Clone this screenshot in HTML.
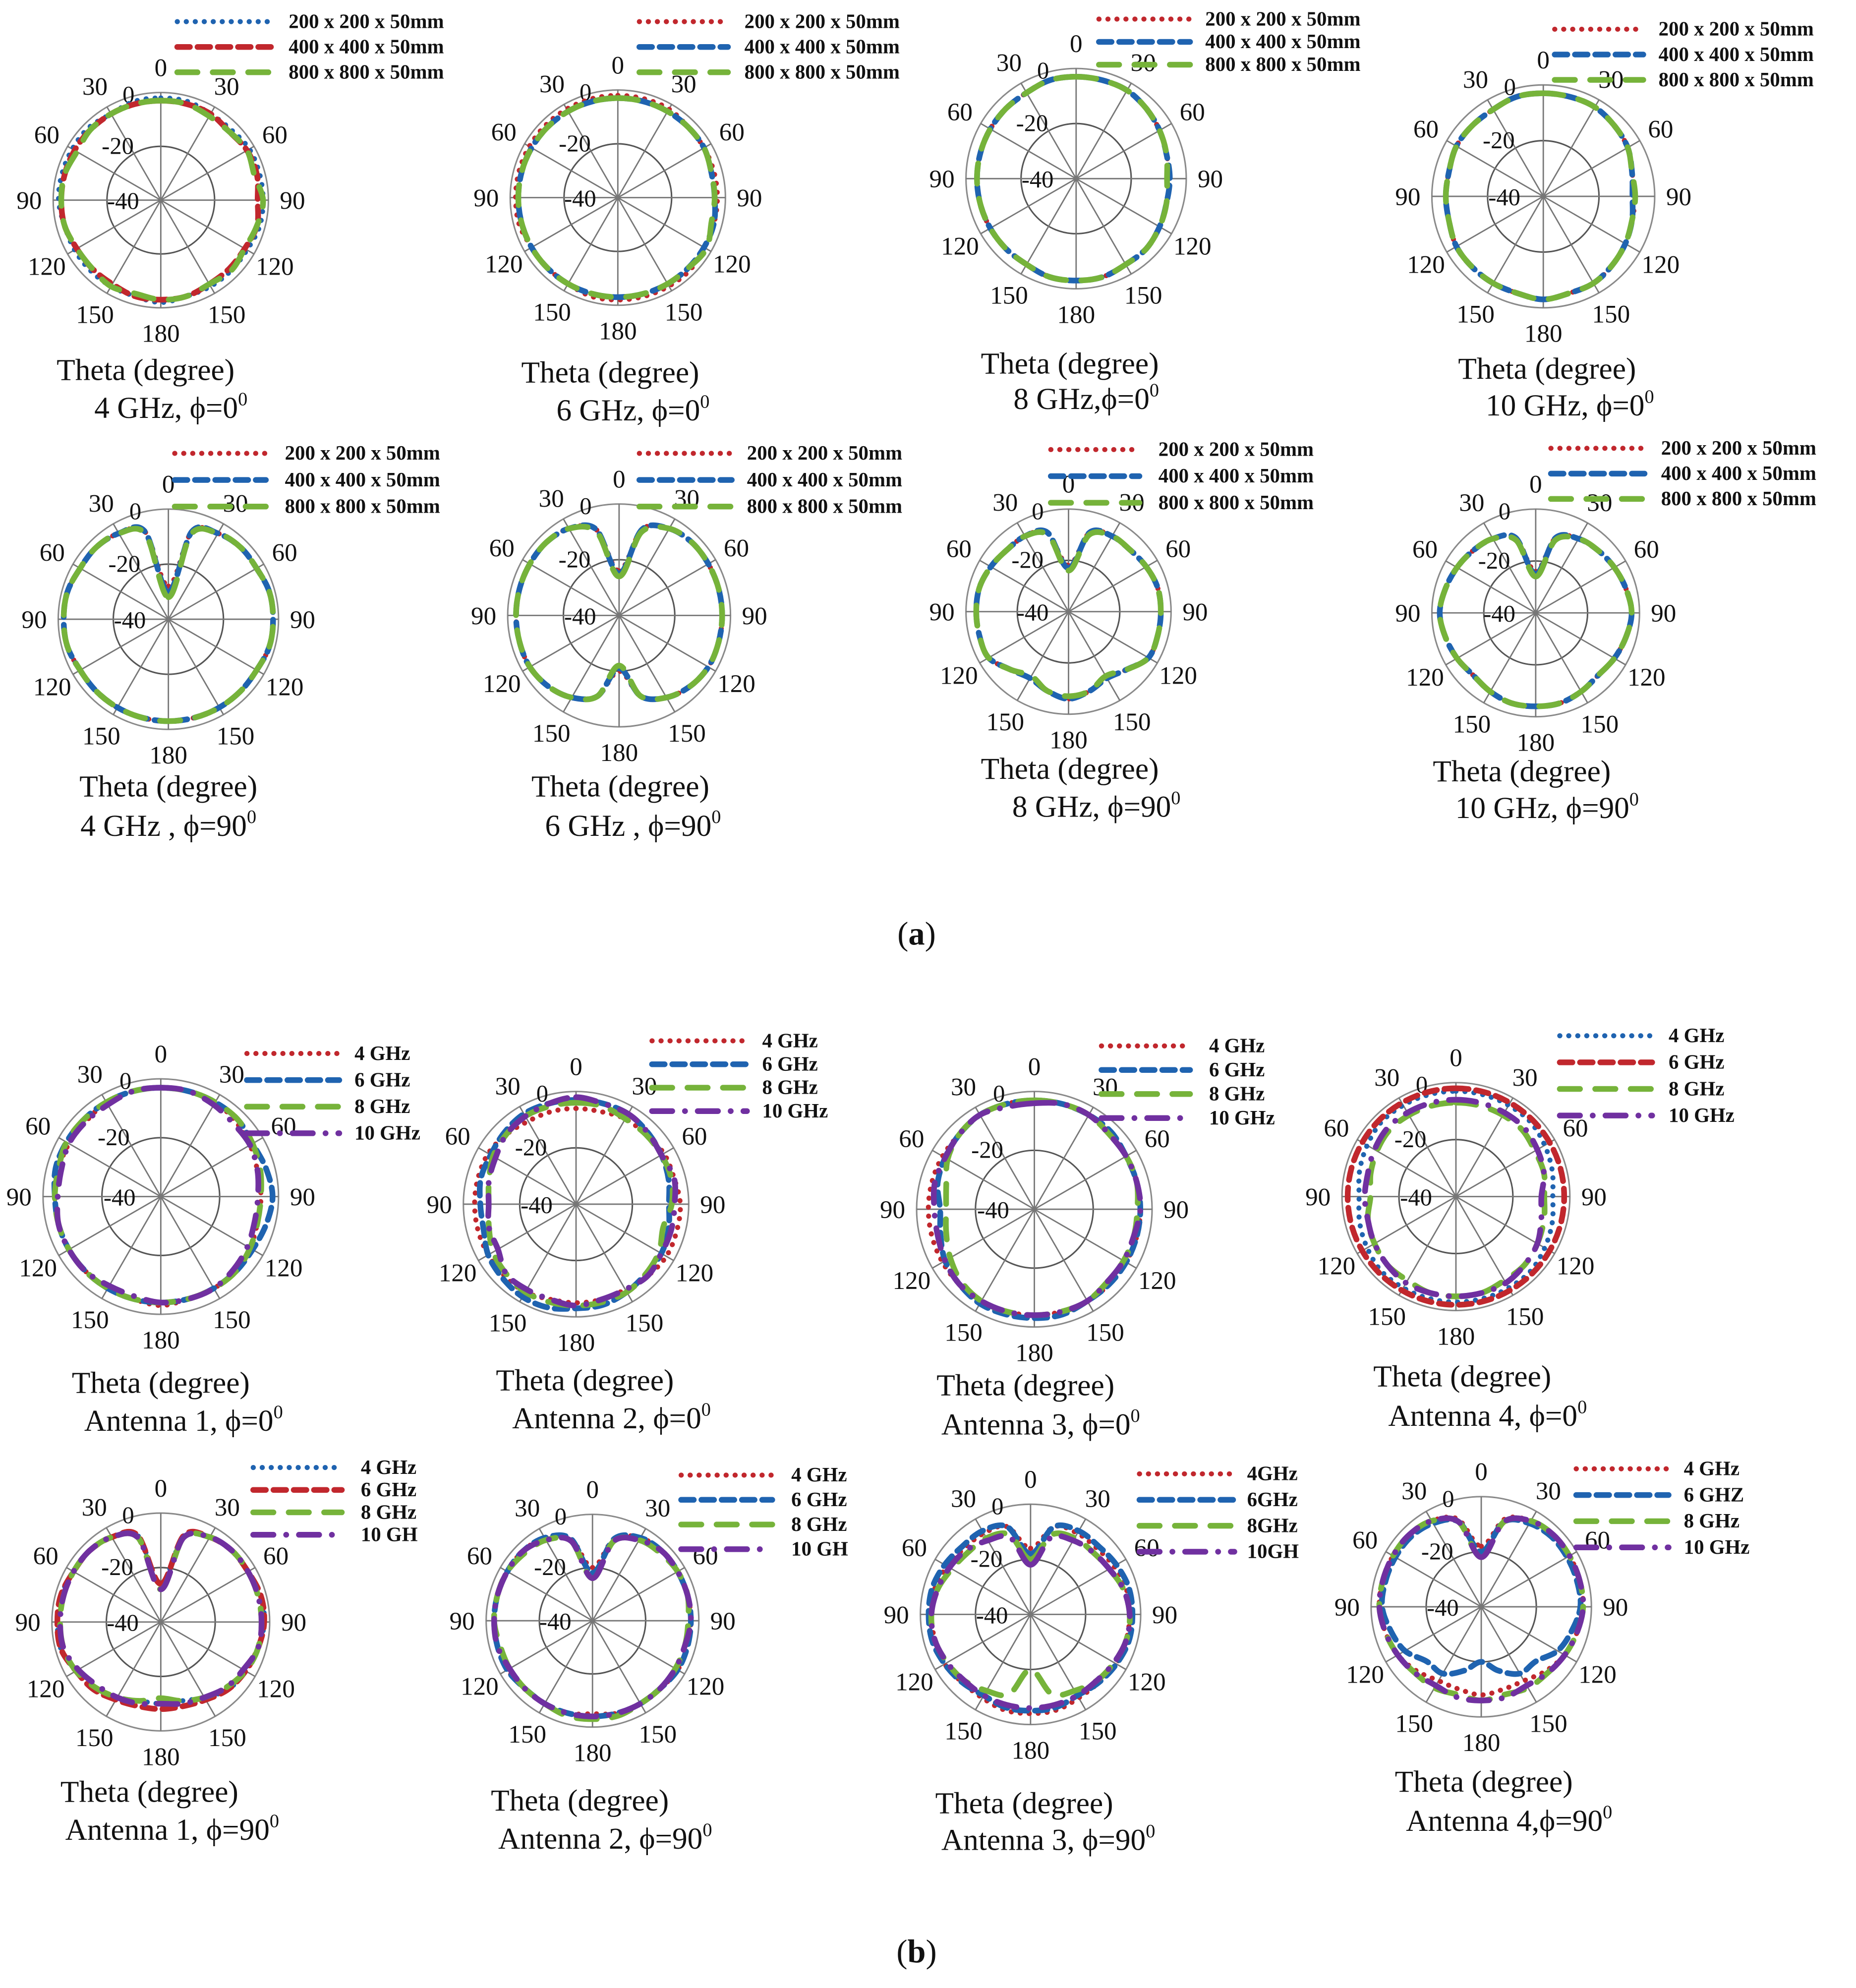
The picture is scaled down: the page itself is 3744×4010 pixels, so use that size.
<!DOCTYPE html>
<html><head><meta charset="utf-8"><style>
html,body{margin:0;padding:0;background:#fff;}
svg{display:block;}
text{font-family:"Liberation Serif",serif;fill:#111;}
</style></head><body>
<svg id="fig" width="3744" height="4010" viewBox="0 0 1466 1570" xmlns="http://www.w3.org/2000/svg">
<text x="724" y="746" font-size="26" text-anchor="middle">(<tspan font-weight="bold">a</tspan>)</text>
<text x="724" y="1550" font-size="26" text-anchor="middle">(<tspan font-weight="bold">b</tspan>)</text>
</svg>
<script>
// ---- data (dB, 24 samples, every 15 deg clockwise from 0) ----
const radialTicks = ["0","-20","-40"];
const angleTicks = ["0","30","60","90","120","150","180"];
const legendA = ["200 x 200 x 50mm","400 x 400 x 50mm","800 x 800 x 50mm"];
const p1s1=[-2,-2,-3,-3,-2,-2,-2,-2,-3,-3,-3,-3,-2,-3,-3,-3,-3,-3,-2,-2,-2,-2,-3,-2];
const p1s2=[-3,-3,-3,-4,-3,-3,-4,-3,-4,-4,-4,-3,-3,-3,-4,-4,-4,-3,-3,-3,-3,-3,-3,-3];
const p1s3=[-3,-3,-4,-4,-3,-4,-2,-3,-4,-3,-4,-3,-3,-4,-3,-4,-4,-3,-3,-3,-4,-3,-3,-3];
const p2s1=[-2,-2,-2,-3,-3,-3,-3,-3,-3,-2,-2,-2,-2,-2,-3,-3,-3,-2,-2,-2,-2,-2,-2,-2];
const p2s2=[-3,-3,-3,-3,-3,-4,-4,-3,-3,-3,-3,-3,-3,-3,-3,-3,-3,-3,-3,-3,-3,-3,-3,-3];
const p2s3=[-3,-3,-3,-3,-3,-4,-4,-4,-2,-3,-3,-3,-3,-3,-3,-3,-3,-3,-3,-3,-3,-3,-3,-3];
const p3s1=[-3,-3,-3,-4,-5,-6,-6,-6,-5,-4,-4,-3,-3,-3,-4,-4,-4,-4,-4,-4,-4,-4,-4,-3];
const p3s2=[-3,-3,-3,-4,-5,-6,-6,-6,-5,-4,-4,-3,-3,-3,-4,-4,-4,-4,-4,-4,-4,-4,-4,-3];
const p3s3=[-3,-3,-3,-4,-5,-6,-7,-6,-5,-4,-4,-3,-3,-3,-4,-4,-4,-4,-4,-4,-4,-4,-4,-3];
const p4s1=[-3,-3,-3,-4,-5,-7,-7,-7,-6,-5,-4,-4,-3,-4,-4,-4,-4,-5,-5,-5,-4,-4,-4,-3];
const p4s2=[-3,-3,-3,-4,-5,-7,-8,-7,-6,-5,-4,-4,-3,-4,-4,-4,-4,-5,-5,-5,-4,-4,-4,-3];
const p4s3=[-3,-3,-3,-4,-5,-7,-7,-7,-6,-5,-4,-4,-3,-4,-4,-4,-4,-5,-5,-5,-4,-4,-4,-3];
const p5s1=[-28,-7,-4,-3,-3,-2,-2,-2,-3,-3,-3,-3,-3,-3,-3,-3,-3,-2,-2,-2,-3,-3,-4,-7];
const p5s2=[-30,-7,-4,-3,-3,-2,-2,-2,-3,-3,-3,-3,-3,-3,-3,-3,-3,-2,-2,-2,-3,-3,-4,-7];
const p5s3=[-32,-8,-4,-3,-3,-2,-2,-2,-3,-3,-3,-3,-3,-3,-3,-3,-3,-2,-2,-2,-3,-3,-4,-8];
const p6s1=[-24,-8,-4,-3,-3,-3,-3,-3,-3,-4,-6,-10,-20,-10,-6,-4,-3,-3,-3,-3,-3,-3,-4,-8];
const p6s2=[-25,-8,-4,-3,-3,-3,-3,-3,-3,-4,-6,-10,-21,-10,-6,-4,-3,-3,-3,-3,-3,-3,-4,-8];
const p6s3=[-26,-9,-4,-3,-3,-3,-3,-3,-3,-4,-6,-10,-22,-10,-6,-4,-3,-3,-3,-3,-3,-3,-4,-9];
const p7s1=[-22,-8,-6,-6,-5,-4,-4,-4,-4,-8,-10,-8,-6,-8,-10,-8,-4,-4,-4,-4,-5,-6,-6,-8];
const p7s2=[-23,-8,-6,-6,-5,-4,-4,-4,-4,-8,-10,-8,-6,-8,-10,-8,-4,-4,-4,-4,-5,-6,-6,-8];
const p7s3=[-24,-9,-6,-6,-5,-4,-4,-4,-4,-8,-11,-8,-7,-8,-11,-8,-4,-4,-4,-4,-5,-6,-6,-9];
const p8s1=[-24,-10,-7,-6,-5,-4,-3,-4,-5,-6,-5,-4,-4,-4,-5,-6,-5,-4,-3,-4,-5,-6,-7,-10];
const p8s2=[-25,-10,-7,-6,-5,-4,-3,-4,-5,-6,-5,-4,-4,-4,-5,-6,-5,-4,-3,-4,-5,-6,-7,-10];
const p8s3=[-26,-11,-7,-6,-5,-4,-3,-4,-5,-6,-5,-4,-4,-4,-5,-6,-5,-4,-3,-4,-5,-6,-7,-11];
const legendB = ["4 GHz","6 GHz","8 GHz","10 GHz"];
const p9s1=[-3,-3,-3,-4,-5,-6,-6,-6,-5,-4,-4,-4,-3,-4,-4,-4,-4,-4,-4,-4,-4,-4,-3,-3];
const p9s2=[-3,-3,-3,-3,-4,-3,-2,-3,-4,-4,-4,-4,-4,-4,-4,-4,-4,-4,-4,-3,-3,-3,-3,-3];
const p9s3=[-3,-3,-3,-3,-4,-5,-6,-6,-5,-4,-4,-4,-4,-4,-4,-4,-4,-4,-4,-4,-3,-3,-3,-3];
const p9s4=[-3,-3,-4,-5,-5,-6,-7,-7,-6,-5,-4,-4,-4,-5,-5,-4,-4,-4,-5,-5,-4,-4,-4,-3];
const p10s1=[-6,-6,-5,-5,-4,-4,-3,-3,-3,-4,-5,-5,-5,-5,-4,-4,-4,-4,-4,-4,-4,-5,-6,-6];
const p10s2=[-3,-3,-3,-4,-5,-6,-7,-6,-5,-5,-4,-3,-3,-2,-2,-3,-4,-6,-6,-5,-5,-4,-3,-3];
const p10s3=[-4,-4,-5,-5,-5,-5,-6,-8,-6,-5,-4,-4,-4,-4,-4,-5,-6,-8,-9,-8,-6,-5,-4,-4];
const p10s4=[-2,-3,-3,-4,-5,-4,-5,-5,-5,-4,-5,-5,-4,-5,-5,-5,-8,-8,-9,-8,-7,-5,-4,-3];
const p11s1=[-3,-3,-3,-4,-4,-4,-4,-4,-4,-4,-4,-4,-4,-4,-4,-4,-4,-4,-4,-4,-4,-4,-3,-3];
const p11s2=[-3,-3,-3,-3,-4,-4,-4,-4,-4,-4,-4,-3,-3,-3,-3,-4,-5,-7,-8,-6,-5,-4,-3,-3];
const p11s3=[-3,-3,-3,-4,-4,-4,-5,-5,-5,-5,-4,-4,-4,-4,-4,-5,-7,-9,-10,-9,-6,-4,-3,-3];
const p11s4=[-4,-3,-3,-4,-4,-4,-4,-5,-5,-5,-4,-4,-4,-4,-4,-4,-5,-6,-6,-5,-5,-4,-3,-4];
const p12s1=[-3,-3,-3,-3,-4,-5,-6,-5,-4,-3,-3,-3,-3,-3,-3,-3,-4,-5,-6,-5,-4,-3,-3,-3];
const p12s2=[-2,-2,-2,-2,-2,-2,-2,-2,-2,-2,-2,-2,-2,-2,-2,-2,-2,-2,-2,-2,-2,-2,-2,-2];
const p12s3=[-7,-7,-7,-7,-8,-8,-9,-8,-7,-6,-6,-5,-5,-5,-6,-6,-7,-8,-10,-9,-8,-7,-7,-7];
const p12s4=[-6,-6,-6,-6,-7,-8,-10,-9,-7,-6,-5,-5,-5,-5,-5,-6,-7,-8,-8,-8,-7,-6,-6,-6];
const p13s1=[-26,-7,-4,-3,-3,-2,-2,-3,-4,-5,-8,-10,-10,-10,-8,-6,-4,-2,-2,-2,-3,-3,-4,-7];
const p13s2=[-26,-7,-4,-3,-3,-2,-2,-3,-4,-5,-7,-8,-8,-8,-7,-5,-4,-2,-2,-2,-3,-3,-4,-7];
const p13s3=[-28,-8,-4,-3,-3,-3,-3,-3,-4,-6,-8,-10,-12,-10,-8,-6,-4,-3,-3,-3,-3,-3,-4,-8];
const p13s4=[-28,-8,-4,-3,-3,-3,-3,-3,-5,-6,-8,-9,-10,-9,-8,-7,-5,-3,-3,-3,-3,-3,-4,-8];
const p14s1=[-20,-8,-4,-3,-3,-3,-3,-3,-3,-4,-4,-4,-5,-4,-4,-4,-3,-3,-3,-3,-3,-3,-4,-8];
const p14s2=[-22,-8,-4,-3,-3,-3,-3,-3,-3,-4,-4,-4,-4,-4,-4,-4,-3,-3,-3,-3,-3,-3,-4,-8];
const p14s3=[-24,-9,-5,-4,-3,-3,-4,-4,-4,-4,-4,-3,-3,-3,-4,-4,-4,-4,-3,-3,-3,-4,-5,-9];
const p14s4=[-24,-9,-5,-3,-3,-3,-3,-4,-4,-4,-4,-4,-4,-4,-4,-4,-4,-3,-3,-3,-3,-3,-5,-9];
const p15s1=[-16,-7,-6,-6,-5,-4,-4,-4,-4,-5,-5,-4,-4,-4,-5,-5,-4,-4,-4,-4,-5,-6,-6,-7];
const p15s2=[-18,-7,-5,-5,-4,-3,-3,-3,-4,-5,-6,-5,-5,-5,-6,-5,-4,-3,-3,-3,-4,-5,-5,-7];
const p15s3=[-20,-10,-8,-8,-7,-5,-4,-4,-5,-6,-8,-10,-20,-10,-8,-6,-5,-4,-4,-5,-7,-8,-8,-10];
const p15s4=[-22,-11,-9,-8,-7,-5,-4,-4,-5,-6,-6,-6,-6,-6,-6,-6,-5,-4,-4,-5,-6,-7,-9,-11];
const p16s1=[-18,-7,-4,-3,-3,-3,-3,-4,-5,-7,-9,-9,-8,-9,-9,-7,-5,-4,-3,-3,-3,-3,-4,-7];
const p16s2=[-20,-8,-5,-4,-4,-4,-4,-6,-8,-12,-12,-16,-20,-16,-12,-12,-8,-6,-4,-4,-4,-4,-5,-8];
const p16s3=[-22,-8,-4,-3,-3,-3,-3,-4,-5,-6,-6,-7,-6,-7,-6,-6,-5,-4,-3,-3,-3,-3,-4,-8];
const p16s4=[-22,-8,-4,-3,-3,-3,-3,-4,-5,-6,-7,-6,-6,-6,-7,-6,-5,-4,-3,-3,-3,-3,-4,-8];

// ---- layout ----
const C={blue:"#1f63b0",red:"#c1272d",green:"#76b33a",purple:"#7030a0"};
const ST={dot:{d:"0.1 7",w:4},dash:{d:"10 6",w:4.5},long:{d:"16 12",w:4.5},dd:{d:"16 10 0.1 10",w:4.5}};
const plots=[
 {cx:127,cy:158,r:85,lx:[140,215,228],ly:[17,20],leg:legendA,ser:[[p1s1,"blue","dot"],[p1s2,"red","dash"],[p1s3,"green","long"]],cap:[115,300,135,330,"4 GHz, ϕ=0"]},
 {cx:488,cy:156,r:85,lx:[505,575,588],ly:[17,20],leg:legendA,ser:[[p2s1,"red","dot"],[p2s2,"blue","dash"],[p2s3,"green","long"]],cap:[482,302,500,332,"6 GHz, ϕ=0"]},
 {cx:850,cy:141,r:87,lx:[868,940,952],ly:[15,18],leg:legendA,ser:[[p3s1,"red","dot"],[p3s2,"blue","dash"],[p3s3,"green","long"]],cap:[845,295,858,323,"8 GHz,ϕ=0"]},
 {cx:1219,cy:155,r:88,lx:[1228,1298,1310],ly:[23,20],leg:legendA,ser:[[p4s1,"red","dot"],[p4s2,"blue","dash"],[p4s3,"green","long"]],cap:[1222,299,1240,328,"10 GHz, ϕ=0"]},
 {cx:133,cy:489,r:87,lx:[138,210,225],ly:[358,21],leg:legendA,ser:[[p5s1,"red","dot"],[p5s2,"blue","dash"],[p5s3,"green","long"]],cap:[133,629,133,660,"4 GHz , ϕ=90"]},
 {cx:489,cy:486,r:88,lx:[505,578,590],ly:[358,21],leg:legendA,ser:[[p6s1,"red","dot"],[p6s2,"blue","dash"],[p6s3,"green","long"]],cap:[490,629,500,660,"6 GHz , ϕ=90"]},
 {cx:844,cy:483,r:81,lx:[830,900,915],ly:[355,21],leg:legendA,ser:[[p7s1,"red","dot"],[p7s2,"blue","dash"],[p7s3,"green","long"]],cap:[845,615,866,645,"8 GHz, ϕ=90"]},
 {cx:1213,cy:484,r:82,lx:[1225,1300,1312],ly:[354,20],leg:legendA,ser:[[p8s1,"red","dot"],[p8s2,"blue","dash"],[p8s3,"green","long"]],cap:[1202,617,1222,646,"10 GHz, ϕ=90"]},
 {cx:127,cy:945,r:93,lx:[195,268,280],ly:[832,21],leg:legendB,ser:[[p9s1,"red","dot"],[p9s2,"blue","dash"],[p9s3,"green","long"],[p9s4,"purple","dd"]],cap:[127,1100,145,1130,"Antenna 1, ϕ=0"]},
 {cx:455,cy:951,r:89,lx:[515,590,602],ly:[822,18.5],leg:legendB,ser:[[p10s1,"red","dot"],[p10s2,"blue","dash"],[p10s3,"green","long"],[p10s4,"purple","dd"]],cap:[462,1098,483,1128,"Antenna 2, ϕ=0"]},
 {cx:817,cy:955,r:93,lx:[870,940,955],ly:[826,19],leg:legendB,ser:[[p11s1,"red","dot"],[p11s2,"blue","dash"],[p11s3,"green","long"],[p11s4,"purple","dd"]],cap:[810,1102,822,1133,"Antenna 3, ϕ=0"]},
 {cx:1150,cy:945,r:90,lx:[1232,1305,1318],ly:[818,21],leg:legendB,ser:[[p12s1,"blue","dot"],[p12s2,"red","dash"],[p12s3,"green","long"],[p12s4,"purple","dd"]],cap:[1155,1095,1175,1126,"Antenna 4, ϕ=0"]},
 {cx:127,cy:1281,r:86,lx:[200,270,285],ly:[1159,17.7],leg:["4 GHz","6 GHz","8 GHz","10 GH"],ser:[[p13s1,"blue","dot"],[p13s2,"red","dash"],[p13s3,"green","long"],[p13s4,"purple","dd"]],cap:[118,1423,136,1453,"Antenna 1, ϕ=90"]},
 {cx:468,cy:1280,r:84,lx:[538,610,625],ly:[1165,19.5],leg:["4 GHz","6 GHz","8 GHz","10 GH"],ser:[[p14s1,"red","dot"],[p14s2,"blue","dash"],[p14s3,"green","long"],[p14s4,"purple","dd"]],cap:[458,1430,478,1460,"Antenna 2, ϕ=90"]},
 {cx:814,cy:1275,r:87,lx:[900,975,985],ly:[1164,20.5],leg:["4GHz","6GHz","8GHz","10GH"],ser:[[p15s1,"red","dot"],[p15s2,"blue","dash"],[p15s3,"green","long"],[p15s4,"purple","dd"]],cap:[809,1432,828,1461,"Antenna 3, ϕ=90"]},
 {cx:1170,cy:1269,r:87,lx:[1245,1318,1330],ly:[1160,20.7],leg:["4 GHz","6 GHZ","8 GHz","10 GHz"],ser:[[p16s1,"red","dot"],[p16s2,"blue","dash"],[p16s3,"green","long"],[p16s4,"purple","dd"]],cap:[1172,1415,1192,1446,"Antenna 4,ϕ=90"]}
];
const NS="http://www.w3.org/2000/svg";
const svg=document.getElementById("fig");
function mk(tag,attrs,parent){const e=document.createElementNS(NS,tag);for(const k in attrs)e.setAttribute(k,attrs[k]);parent.appendChild(e);return e;}
function rScale(v,r){return r*Math.max(0,(v+40))/40;}
function pt(p,deg,rad){const a=deg*Math.PI/180;return [p.cx+rad*Math.sin(a),p.cy-rad*Math.cos(a)];}
function curve(pts){let d="M"+pts[0][0].toFixed(1)+","+pts[0][1].toFixed(1);const n=pts.length;
 for(let i=0;i<n;i++){const p0=pts[(i-1+n)%n],p1=pts[i],p2=pts[(i+1)%n],p3=pts[(i+2)%n];
 const c1=[p1[0]+(p2[0]-p0[0])/6,p1[1]+(p2[1]-p0[1])/6],c2=[p2[0]-(p3[0]-p1[0])/6,p2[1]-(p3[1]-p1[1])/6];
 d+="C"+c1[0].toFixed(1)+","+c1[1].toFixed(1)+" "+c2[0].toFixed(1)+","+c2[1].toFixed(1)+" "+p2[0].toFixed(1)+","+p2[1].toFixed(1);}
 return d+"Z";}
plots.forEach((p,pi)=>{
 const g=mk("g",{},svg);
 
 
 const oc=mk("circle",{cx:p.cx,cy:p.cy,r:p.r,fill:"none",stroke:"#8a8a8a","stroke-width":1.2},g);
 
 
 const ic=mk("circle",{cx:p.cx,cy:p.cy,r:rScale(-20,p.r),fill:"none",stroke:"#555","stroke-width":1.2},g);
 
 
 for(let k=0;k<12;k++){const e=pt(p,k*30,p.r);
  const ln=mk("line",{x1:p.cx,y1:p.cy,x2:e[0],y2:e[1],stroke:"#777","stroke-width":1.1},g);
  
  }
 for(let k=0;k<=6;k++){
  const sides=(k==0||k==6)?[1]:[1,-1];
  sides.forEach(s=>{const q=pt(p,s*k*30,p.r+(k==0||k==6?20:19));
   const t=mk("text",{x:q[0],y:q[1]+7,"font-size":20,"text-anchor":"middle"},g);t.textContent=angleTicks[k];
   
   });
 }
 const rl=[[p.cx-0.3*p.r,p.cy-p.r+8],[p.cx-0.4*p.r,p.cy-0.5*p.r+6],[p.cx-0.35*p.r,p.cy+7]];
 rl.forEach((q,i)=>{const t=mk("text",{x:q[0],y:q[1],"font-size":19,"text-anchor":"middle"},g);t.textContent=radialTicks[i];
  
  });
 p.ser.forEach((s,si)=>{const pts=s[0].map((v,i)=>pt(p,i*15,rScale(v,p.r)));const st=ST[s[2]];
  const path=mk("path",{d:curve(pts),fill:"none",stroke:C[s[1]],"stroke-width":st.w,"stroke-dasharray":st.d,"stroke-linecap":"round"},g);
  
  });
 p.ser.forEach((s,si)=>{const y=p.ly[0]+si*p.ly[1];const st=ST[s[2]];
  const ln=mk("line",{x1:p.lx[0],y1:y,x2:p.lx[1],y2:y,stroke:C[s[1]],"stroke-width":st.w,"stroke-dasharray":st.d,"stroke-linecap":"round"},g);
  
  
  const t=mk("text",{x:p.lx[2],y:y+5,"font-size":16,"font-weight":"bold"},g);t.textContent=p.leg[si];
  
  });
 const c=p.cap;
 const t1=mk("text",{x:c[0],y:c[1],"font-size":24,"text-anchor":"middle"},g);t1.textContent="Theta (degree)";
 
 
 const t2=mk("text",{x:c[2],y:c[3],"font-size":24,"text-anchor":"middle"},g);t2.textContent=c[4];
 const sup=mk("tspan",{"font-size":15,dy:-10},t2);sup.textContent="0";
 
 
});
</script>
</body></html>
